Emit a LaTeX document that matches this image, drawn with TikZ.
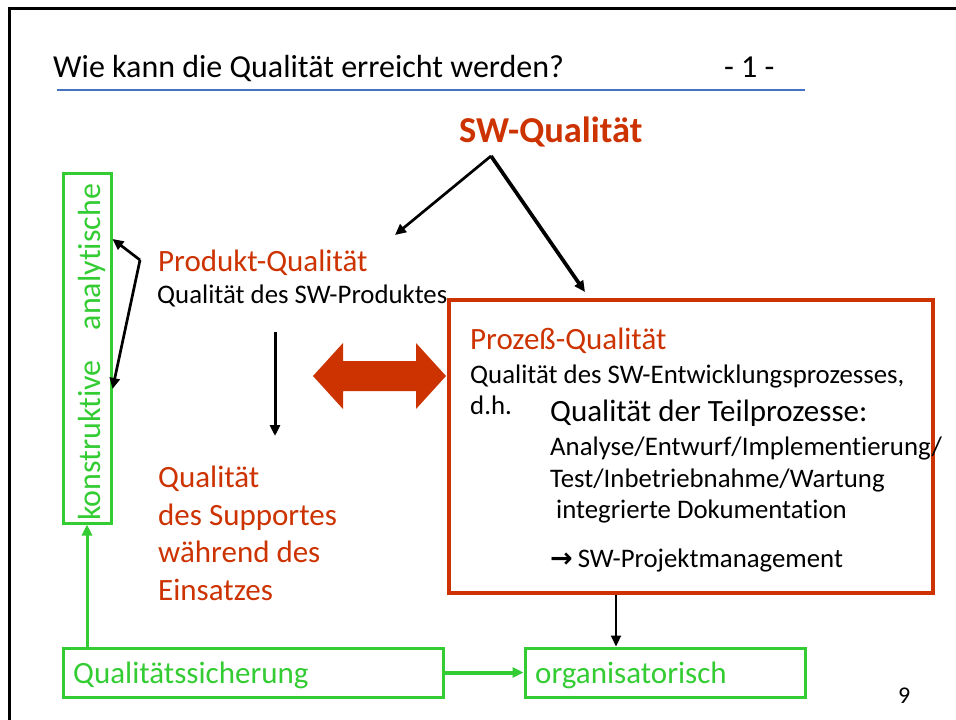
\documentclass[tikz,border=0pt]{standalone}
\usepackage{fontspec}
\setmainfont{Carlito}[Ligatures=NoCommon]
\newfontfamily\dvs{DejaVu Sans}
\usetikzlibrary{arrows.meta}
\definecolor{qred}{RGB}{204,51,0}
\definecolor{qgreen}{RGB}{51,204,51}
\definecolor{qblue}{RGB}{68,114,196}
\begin{document}
\begin{tikzpicture}[x=1pt,y=-1pt,
 txt/.style={anchor=base west, inner sep=0pt, font=\fontsize{26.8}{32}\selectfont},
 head/.style={txt, text=qred, font=\fontsize{31}{37}\selectfont},
 big/.style={txt, font=\fontsize{31}{37}\selectfont},
 gtxt/.style={txt, text=qgreen, font=\fontsize{31}{37}\selectfont},
 gbox/.style={draw=qgreen, line width=3pt, inner sep=0pt},
 arr/.style={-{Triangle[length=11pt,width=10pt]}, line width=2.7pt, black},
 garr/.style={-{Triangle[length=11pt,width=10pt]}, line width=3pt, qgreen}]
\useasboundingbox (0,0) rectangle (956,720);
\fill[white] (0,0) rectangle (956,720);
\draw[line width=3pt] (9,722) -- (9,8) -- (958,8);

% title
\node[txt, font=\fontsize{32}{38}\selectfont] (title) at (53,77) {Wie kann die Qualität erreicht werden?};
\node[txt, font=\fontsize{32}{38}\selectfont] (num) at (724,77) {- 1 -};
\coordinate (bl1) at (57,90);
\coordinate (bl2) at (805,90);
\draw[qblue, line width=1.3pt] (bl1) -- (bl2);

% SW-Qualitaet
\node[txt, text=qred, font=\bfseries\fontsize{36.5}{44}\selectfont] (sw) at (459,142) {SW-Qualität};
\coordinate (apex) at (491,156);
\coordinate (pqtip) at (395,235);
\coordinate (proctip) at (585,292);
\draw[arr] (apex) -- (pqtip);
\draw[arr, line width=3.7pt] (apex) -- (proctip);

% left box
\node[gbox, minimum width=48pt, minimum height=350pt] (lb) at (87,348) {};
\node[gtxt, rotate=90, font=\fontsize{32}{38}\selectfont] (lbt) at (100,521) {konstruktive\hspace{30pt}analytische};
\coordinate (v) at (140,260);
\draw[arr] (v) -- (lb.east |- 0,239);
\draw[arr] (v) -- (lb.east |- 0,389);

% Produkt
\node[head] (pq) at (158,271) {Produkt-Qualität};
\node[txt] (pqs) at (157,303) {Qualität des SW-Produktes};
\coordinate (d1) at (275,332);
\coordinate (d2) at (275,436);
\draw[arr, line width=3pt] (d1) -- (d2);

% Support
\node[head] (s1) at (158,487) {Qualität};
\node[head] (s2) at (158,525) {des Supportes};
\node[head] (s3) at (158,562) {während des};
\node[head] (s4) at (158,600) {Einsatzes};

% double arrow
\fill[qred] (313,376) -- (343,343) -- (343,361) -- (416,361) -- (416,343) -- (446,376)
  -- (416,409) -- (416,391) -- (343,391) -- (343,409) -- cycle;

% process box
\node[draw=qred, line width=3.3pt, minimum width=484pt, minimum height=293pt, inner sep=0pt] (proc) at (691,446.5) {};
\node[head] (p1) at (470,349) {Prozeß-Qualität};
\node[txt] (p2) at (470,383) {Qualität des SW-Entwicklungsprozesses,};
\node[txt] (p3) at (470,414) {d.h.};
\node[big] (p4) at (550,421) {Qualität der Teilprozesse:};
\node[txt] (p5) at (550,455) {Analyse/Entwurf/Implementierung/};
\node[txt] (p6) at (550,487) {Test/Inbetriebnahme/Wartung};
\node[txt] (p7) at (556,518) {integrierte Dokumentation};
\node[txt] (p8) at (550,567) {{\dvs\bfseries\fontsize{27}{30}\selectfont →}\hspace{5pt}SW-Projektmanagement};

% bottom boxes
\node[gbox, minimum width=380pt, minimum height=49pt] (qs) at (253,672.5) {};
\node[gtxt] (qst) at (73,683) {Qualitätssicherung};
\node[gbox, minimum width=280pt, minimum height=49pt] (org) at (665,672.5) {};
\node[gtxt] (orgt) at (535,683) {organisatorisch};
\draw[garr] (qs.north -| lb.south) -- (lb.south);
\draw[garr, line width=4pt] (qs.east) -- (org.west);
\draw[arr, line width=2.2pt] (proc.south -| 616,0) -- (org.north -| 616,0);

% page number
\node[txt, font=\fontsize{24}{28}\selectfont] (pg) at (898,703) {9};
\end{tikzpicture}
\end{document}
